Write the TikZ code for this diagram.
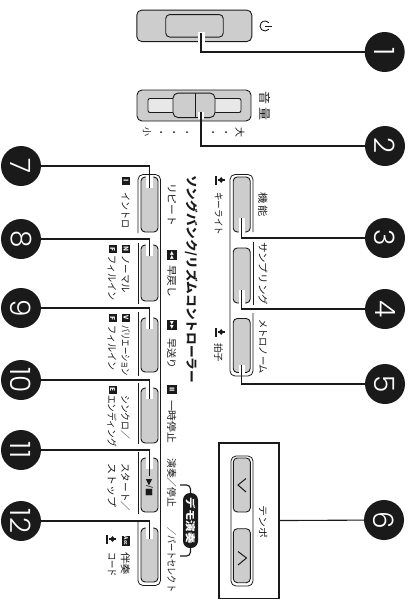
\documentclass[tikz,border=0pt]{standalone}
\usepackage{graphicx}
\usepackage{fontspec}
\setmainfont{Noto Sans CJK JP}
\newfontfamily\numfont{Poppins Light}
\newfontfamily\symfont{DejaVu Sans}
\definecolor{btngray}{HTML}{CDCDCD}
\definecolor{ink}{HTML}{1A1A1A}
\newsavebox\fitbx
\newcommand\fitw[2]{\sbox\fitbx{\vphantom{国}#2}\pgfmathsetmacro\fitr{#1/\the\wd\fitbx}\scalebox{\fitr}[1]{\usebox\fitbx}}
\tikzset{
  lbl/.style={rotate=-90,anchor=west,inner sep=0pt,text=ink},
  ctr/.style={rotate=-90,inner sep=0pt,text=ink},
  btn/.style={draw=ink,fill=btngray,line width=0.9pt,rounded corners=4pt,inner sep=0pt},
  shell/.style={draw=ink,line width=0.8pt,rounded corners=5pt},
  lead/.style={draw=ink,line width=1.1pt},
  halo/.style={fill=white},
  numc/.style={circle,fill=ink,minimum size=40pt,inner sep=0pt,text=white,rotate=-90,font=\numfont\fontsize{28}{28}\selectfont},
  keyb/.style={fill=ink,text=white,rotate=-90,inner sep=0pt,minimum width=8pt,minimum height=8pt,font=\fontsize{6.5}{6.5}\bfseries\selectfont},
}
\newcommand\lab[6]{\node[lbl,font=\fontsize{#5}{#5}\selectfont] (#1) at (#2,#3) {\fitw{#4}{#6}};}
\newcommand\lamp[2]{\begin{scope}[shift={(#1,#2)}]
  \fill[ink] (-1,-4.5) rectangle (1,4.5);
  \fill[ink] (3,0) -- (5.5,-3) -- (8,0) -- (5.5,3) -- cycle;
  \fill[ink] (2,-0.6) rectangle (9,0.6);
\end{scope}}
\newcommand\bt[4]{\node[btn,minimum width=17pt,minimum height=#4pt] (#1) at (#2,#3) {};}
\begin{document}
\begin{tikzpicture}[x=1pt,y=-1pt]
\useasboundingbox (0,0) rectangle (408,600);

% ---- power
\node[btn,fill=btngray,minimum width=115pt,minimum height=31.5pt,rounded corners=5pt] (pw) at (194.3,25.8) {};
\node[btn,minimum width=57.5pt,minimum height=22.5pt] (pwk) at (194.5,25.8) {};
\fill[halo] (197.5,32) rectangle (204.5,42.5);
\coordinate (l1) at (201,33);
\begin{scope}[shift={(265,26)}]
  \draw[ink,line width=0.9pt] (3.83,3.21) arc[start angle=-40,end angle=-320,radius=5pt];
  \draw[ink,line width=0.9pt] (0,0) -- (7,0);
\end{scope}

% ---- volume
\node[btn,minimum width=114pt,minimum height=31pt,rounded corners=5pt] (vol) at (194,105.5) {};
\node[btn,fill=btngray!45,minimum width=93pt,minimum height=14pt,rounded corners=2pt] (slot) at (194.5,105.5) {};
\node[btn,minimum width=42pt,minimum height=24.5pt,rounded corners=5pt] (knob) at (194,105.3) {};
\coordinate (ka) at (195,93); \coordinate (kb) at (195,117.5);
\draw[ink,line width=0.9pt] (ka) -- (kb);
\fill[halo] (198,112) rectangle (204,118.5);
\coordinate (l2) at (201,112);
\lab{yin}{265}{91}{29}{12}{音 量}
\node[ctr,font=\fontsize{9}{9}\selectfont] (xiao) at (147,132) {小};
\node[ctr,font=\fontsize{10}{10}\selectfont] (da) at (240,132) {大};
\foreach \dx in {161,174,187,213,226} \fill[ink] (\dx,132) circle[radius=1pt];

% ---- left button shell
\draw[shell] (138,233) -- (138,174.5) -- (160.5,174.5) -- (160.5,585.5) -- (138,585.5) -- (138,521);
\foreach \ya/\yb in {243/304,312/376,383/444,452/514} \draw[ink,line width=0.8pt] (138,\ya) -- (138,\yb);

\bt{b7}{149.5}{204.5}{55}
\bt{b8}{149.5}{273}{56}
\bt{b9}{149.5}{345}{54}
\bt{b10}{149.5}{415.5}{55}
\bt{b11}{149.5}{485}{54}
\bt{b12}{149.5}{555}{54}
\foreach \yy in {177,245,318,388,458,528} \fill[halo] (146,\yy-1) rectangle (153,\yy+11);
\coordinate (l7) at (149.3,188);
\coordinate (l8) at (149.3,256);
\coordinate (l9) at (149.3,329);
\coordinate (l10) at (149.3,399);
\coordinate (l11) at (149.3,476);
\coordinate (l12) at (149.3,539);
\node[ctr,font=\symfont\fontsize{8.5}{8.5}\selectfont] (startsym) at (149.5,488) {▶/■};

% ---- right button shell
\draw[shell] (253,232) -- (253,174.5) -- (230,174.5) -- (230,376) -- (253,376) -- (253,313);
\draw[ink,line width=0.8pt] (253,242) -- (253,305);
\bt{b3}{241.7}{204.5}{55}
\bt{b4}{241.7}{275.5}{55}
\bt{b5}{241.7}{345.5}{54}
\fill[halo] (238.5,218) rectangle (245,233);
\fill[halo] (238.5,290) rectangle (245,304);
\fill[halo] (238.5,365) rectangle (245,373);
\coordinate (l3) at (241.7,218);
\coordinate (l4) at (241.7,290);
\coordinate (l5) at (241.7,365);

% ---- tempo
\node[draw=ink,line width=1.4pt,minimum width=60pt,minimum height=155.5pt,inner sep=0pt] (tempo) at (249,520.7) {};
\node[shell,minimum width=22pt,minimum height=130pt,inner sep=0pt] (tsh) at (242,521) {};
\bt{tup}{241.8}{485}{54}
\bt{tdn}{241.8}{555.7}{54}
\draw[ink,line width=1pt] (246,478.5) -- (238,485) -- (246,492);
\draw[ink,line width=1pt] (238,551.5) -- (246.5,558) -- (238,565);
\lab{ttempo}{263}{505}{33}{9.5}{テンポ}

% ---- numbered circles
\node[numc] (c1) at (384.7,52) {1};
\node[numc] (c2) at (385,146) {2};
\node[numc] (c3) at (385,238) {3};
\node[numc] (c4) at (385,309) {4};
\node[numc] (c5) at (385,384) {5};
\node[numc] (c6) at (384,520) {6};
\node[numc] (c7) at (21,166) {7};
\node[numc] (c8) at (21,239) {8};
\node[numc] (c9) at (21,308) {9};
\node[numc] (c10) at (21,380) {10};
\node[numc] (c11) at (21,450) {11};
\node[numc] (c12) at (21,521) {12};

% ---- leaders
\draw[lead] (l1) |- (c1);
\draw[lead] (l2) |- (c2);
\draw[lead] (l3) |- (c3);
\draw[lead] (l4) |- (c4);
\draw[lead] (l5) |- (c5);
\draw[lead] (tempo) -- (c6);
\draw[lead] (l7) |- (c7);
\draw[lead] (l8) |- (c8);
\draw[lead] (l9) |- (c9);
\draw[lead] (l10) |- (c10);
\draw[lead] (l11) |- (c11);
\draw[lead] (l12) |- (c12);

% ---- right labels
\lab{kino}{263}{192}{25}{10}{機 能}
\lab{samp}{263}{242}{63}{10}{サンプリング}
\lab{metro}{263}{319}{55}{10}{メトロノーム}
\lamp{215.7}{180}
\lab{klight}{218.5}{192}{43}{9.5}{キーライト}
\lamp{215.7}{332}
\lab{beat}{218.5}{343}{19}{9.5}{拍子}

% ---- title and middle column
\node[lbl,font=\fontsize{12}{12}\bfseries\selectfont] (title) at (192,175) {\fitw{208}{ソングバンク/リズムコントローラー}};
\lab{rep}{171.7}{183}{43}{10}{リピート}
\node[keyb,font=\symfont\fontsize{5}{5}\selectfont,minimum width=10pt,minimum height=10pt] (krw) at (172,255) {◀◀};
\lab{rew}{171.7}{265}{32}{10}{早戻し}
\node[keyb,font=\symfont\fontsize{5}{5}\selectfont,minimum width=10pt,minimum height=10pt] (kff) at (172,325) {▶▶};
\lab{ffw}{171.7}{338}{30}{10}{早送り}
\node[keyb,minimum width=9pt,minimum height=10pt] (kpa) at (172,389.5) {II};
\lab{paus}{171.7}{400}{43}{10}{一時停止}
\lab{play}{171.7}{458}{49}{10}{演奏／停止}
\lab{part}{171.7}{527}{65}{10}{／パートセレクト}

% ---- demo pill
\node[rotate=-90,fill=ink,text=white,rounded corners=7pt,minimum width=55pt,minimum height=15pt,inner sep=0pt,font=\fontsize{10}{10}\bfseries\selectfont] (pill) at (190.5,520.5) {\fitw{46}{デモ演奏}};
\coordinate (br1) at (180,485);
\coordinate (br2) at (180,556);
\draw[lead,rounded corners=4pt] (br1) -| (pill.west);
\draw[lead,rounded corners=4pt] (br2) -| (pill.east);

% ---- left labels
\node[keyb] (ki) at (126,181) {I};
\lab{intro}{125.5}{192}{36}{10}{イントロ}
\node[keyb] (kn) at (126,249) {N};
\lab{norm}{125.5}{255}{38}{10}{ノーマル}
\node[keyb] (kf1) at (112.5,249) {F};
\lab{fill1}{112}{255}{45}{10}{フィルイン}
\node[keyb] (kv) at (126,318) {V};
\lab{vari}{125.5}{325}{51}{10}{バリエーション}
\node[keyb] (kf2) at (112.5,318) {F};
\lab{fill2}{112}{325}{45}{10}{フィルイン}
\lab{sync}{125.5}{395}{44}{10}{シンクロ／}
\node[keyb] (ke) at (112.5,390) {E};
\lab{endi}{112}{395}{52}{10}{エンディング}
\lab{star}{125.5}{463}{48}{10}{スタート／}
\lab{stop}{112}{463}{44}{10}{ストップ}
\node[keyb,minimum width=10pt,font=\fontsize{5}{5}\bfseries\selectfont] (kacc) at (126,541) {Acc};
\lab{acc}{125.5}{552}{23}{10}{伴奏}
\lamp{107}{539}
\lab{code}{112}{552}{25}{10}{コード}
\end{tikzpicture}
\end{document}
